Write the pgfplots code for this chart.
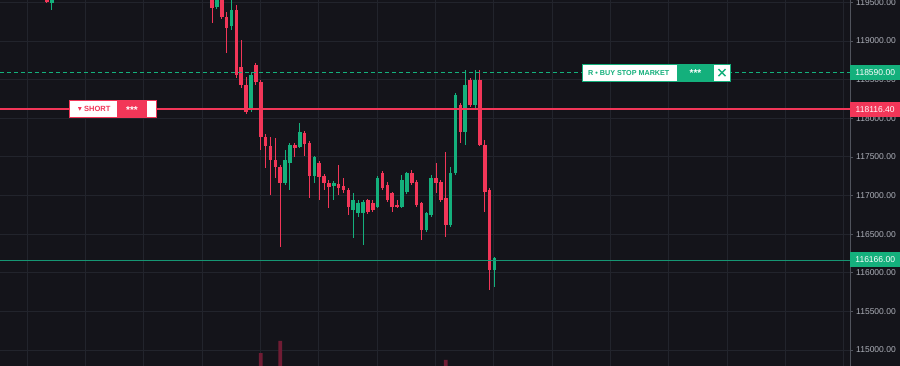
\documentclass[border=0pt]{standalone}
\usepackage{fontspec}
\setmainfont{Liberation Sans}
\usepackage{pgfplots}
\usepackage{pgfplotstable}
\pgfplotsset{compat=1.18}

\definecolor{bgc}{RGB}{20,20,26}
\definecolor{gridc}{RGB}{34,36,44}
\definecolor{labc}{RGB}{172,175,184}
\definecolor{axc}{RGB}{80,83,92}
\definecolor{cred}{RGB}{242,54,88}
\definecolor{cgreen}{RGB}{20,176,124}
\definecolor{cgreenl}{RGB}{22,150,115}
\definecolor{cvol}{RGB}{112,28,52}

% red (falling) candles: x o h l c
\pgfplotstableread{
x o h l c
47 119570 119595 119492 119505
212 119790 119919 119233 119427
221.7 119595 119660 119285 119311
226.6 119311 119375 118845 119168
236.4 119401 119466 118521 118560
241.2 118663 119013 118392 118430
246.1 118430 118534 118055 118081
255.8 118689 118715 118430 118469
260.7 118469 118495 117589 117757
265.6 117757 117796 117356 117641
270.4 117641 117757 117007 117459
275.3 117459 117744 117226 117369
280.2 117369 117395 116334 117162
294.8 117654 117680 117498 117615
304.5 117809 117835 117511 117667
309.4 117680 117705 116968 117252
319.1 117421 117446 116942 117239
324.0 117252 117278 117071 117162
328.9 117162 117200 116838 117110
338.6 117149 117395 117007 117097
343.5 117123 117226 117032 117071
348.4 117071 117097 116748 116851
367.8 116942 116955 116760 116786
372.7 116903 116942 116786 116812
382.5 117291 117317 117071 117097
387.3 117136 117175 116916 116942
392.2 117032 117045 116786 116851
397.1 116877 116942 116838 116851
411.7 117291 117330 117136 117162
416.5 117175 117200 116851 116877
421.4 116903 116916 116424 116553
436.0 117226 117421 117032 117162
440.9 117175 117200 116916 116942
445.8 116968 117563 116463 116618
460.4 118171 118197 117680 117822
470.1 118495 118521 118146 118171
479.9 118495 118625 117641 117654
484.7 117654 117718 116786 117045
489.6 117071 117097 115777 116036
}\redc

% green (rising) candles: x o h l c
\pgfplotstableread{
x o h l c
52 119492 119595 119401 119570
216.9 119440 119725 119414 119595
231.5 119194 119570 119142 119401
251.0 118107 118599 118081 118560
285.1 117162 117589 117136 117459
289.9 117421 117680 117071 117654
299.7 117628 117939 117615 117822
314.3 117252 117511 117162 117498
333.8 117123 117188 116942 117162
353.2 116812 117032 116450 116942
358.1 116773 116942 116722 116903
363.0 116773 116942 116359 116916
377.6 116851 117252 116838 117226
401.9 116851 117265 116838 117200
406.8 117045 117304 117019 117291
426.3 116553 116786 116527 116773
431.2 116748 117265 116722 117226
450.6 116618 117369 116592 117291
455.5 117291 118327 117265 118301
465.2 117822 118625 117654 118430
475.0 118171 118625 118133 118495
494.5 116036 116204 115815 116191
}\greenc

\begin{document}
\begin{tikzpicture}
\path[use as bounding box] (0,0) rectangle (900pt,366pt);
\clip (0,0) rectangle (900pt,366pt);
\fill[bgc] (0,0) rectangle (900pt,366pt);
\begin{axis}[
  at={(0pt,0pt)}, anchor=south west,
  scale only axis, width=850pt, height=366pt,
  xmin=0, xmax=850, ymin=114792.8, ymax=119530.7,
  axis line style={draw=none},
  xtick={27,85,143,202,260,318,377,435,493,552,610,668,727,785,843},
  xticklabels={},
  major x tick style={draw=none},
  xmajorgrids, ymajorgrids,
  grid style={gridc, line width=0.8pt},
  ytick={115000,115500,116000,116500,117000,117500,118000,118500,119000,119500},
  yticklabels={115000.00,115500.00,116000.00,116500.00,117000.00,117500.00,118000.00,118500.00,119000.00,119500.00},
  ytick pos=right, yticklabel pos=right,
  tick align=outside, major tick length=3pt,
  major y tick style={axc, line width=0.7pt},
  yticklabel style={font=\fontsize{8.5}{10}\selectfont, text=labc, anchor=west, inner sep=0pt, xshift=3pt},
  clip=true,
  candle/.style 2 args={draw=none, mark=none, forget plot, error bars/.cd, y dir=both, y explicit, error mark=none, error bar style={draw=#1, line cap=butt, line width=#2}},
]
% volume
\addplot[ybar, bar width=3.8pt, fill=cvol, draw=none, forget plot] coordinates {(260.7,114961) (280.2,115117) (445.8,114871)};
% wicks
\addplot[candle={cred}{1pt}]
  table[x=x, y expr={(\thisrow{h}+\thisrow{l})/2}, y error expr={(\thisrow{h}-\thisrow{l})/2}] {\redc};
\addplot[candle={cgreen}{1pt}]
  table[x=x, y expr={(\thisrow{h}+\thisrow{l})/2}, y error expr={(\thisrow{h}-\thisrow{l})/2}] {\greenc};
% bodies
\addplot[candle={cred}{3.6pt}]
  table[x=x, y expr={(\thisrow{o}+\thisrow{c})/2}, y error expr={max(abs(\thisrow{o}-\thisrow{c})/2,8)}] {\redc};
\addplot[candle={cgreen}{3.6pt}]
  table[x=x, y expr={(\thisrow{o}+\thisrow{c})/2}, y error expr={max(abs(\thisrow{o}-\thisrow{c})/2,8)}] {\greenc};
% horizontal order lines
\addplot[cgreen, line width=0.9pt, dash pattern=on 4pt off 3pt] coordinates {(0,118590) (850,118590)};
\addplot[cred, line width=1.8pt] coordinates {(0,118116.4) (850,118116.4)};
\addplot[cgreenl, line width=0.8pt] coordinates {(0,116166) (850,116166)};
\coordinate (tA) at (axis cs:850,118590);
\coordinate (tB) at (axis cs:850,118116.4);
\coordinate (tC) at (axis cs:850,116166);
\coordinate (sS) at (axis cs:69,118116.4);
\coordinate (sB) at (axis cs:582,118590);
\end{axis}
% right axis line
\draw[axc, line width=0.7pt] (850pt,0) -- (850pt,366pt);
% price tags
\node[anchor=west, fill=cgreen, text=white, minimum width=50pt, minimum height=15pt, inner sep=0pt, font=\fontsize{8.5}{10}\selectfont] at (tA) {118590.00};
\node[anchor=west, fill=cred, text=white, minimum width=50pt, minimum height=15pt, inner sep=0pt, font=\fontsize{8.5}{10}\selectfont] at (tB) {118116.40};
\node[anchor=west, fill=cgreen, text=white, minimum width=50pt, minimum height=15pt, inner sep=0pt, font=\fontsize{8.5}{10}\selectfont] at (tC) {116166.00};
% SHORT label
\begin{scope}[shift={(sS)}]
  \filldraw[fill=white, draw=cred, line width=0.8pt] (0,-8.5pt) rectangle (87pt,8.5pt);
  \fill[cred] (48pt,-8.5pt) rectangle (78pt,8.5pt);
  \fill[cred] (9pt,2pt) -- (12.5pt,2pt) -- (10.75pt,-1.5pt) -- cycle;
  \node[anchor=west, inner sep=0pt, text=cred, font=\bfseries\fontsize{7.5}{8}\selectfont] at (15pt,0) {SHORT};
  \node[inner sep=0pt, text=white, font=\bfseries\fontsize{10}{10}\selectfont] at (63pt,-0.8pt) {***};
\end{scope}
% BUY STOP MARKET label
\begin{scope}[shift={(sB)}]
  \filldraw[fill=white, draw=cgreen, line width=0.8pt] (0,-8.5pt) rectangle (148pt,8.5pt);
  \fill[cgreen] (95pt,-8.5pt) rectangle (132pt,8.5pt);
  \node[anchor=west, inner sep=0pt, text=cgreen, font=\bfseries\fontsize{7.2}{8}\selectfont] at (6pt,0) {R • BUY STOP MARKET};
  \node[inner sep=0pt, text=white, font=\bfseries\fontsize{10}{10}\selectfont] at (113.5pt,-0.8pt) {***};
  \draw[cgreen, line width=1.5pt] (136.5pt,-3.5pt) -- (143.5pt,3.5pt) (136.5pt,3.5pt) -- (143.5pt,-3.5pt);
\end{scope}
\end{tikzpicture}
\end{document}
